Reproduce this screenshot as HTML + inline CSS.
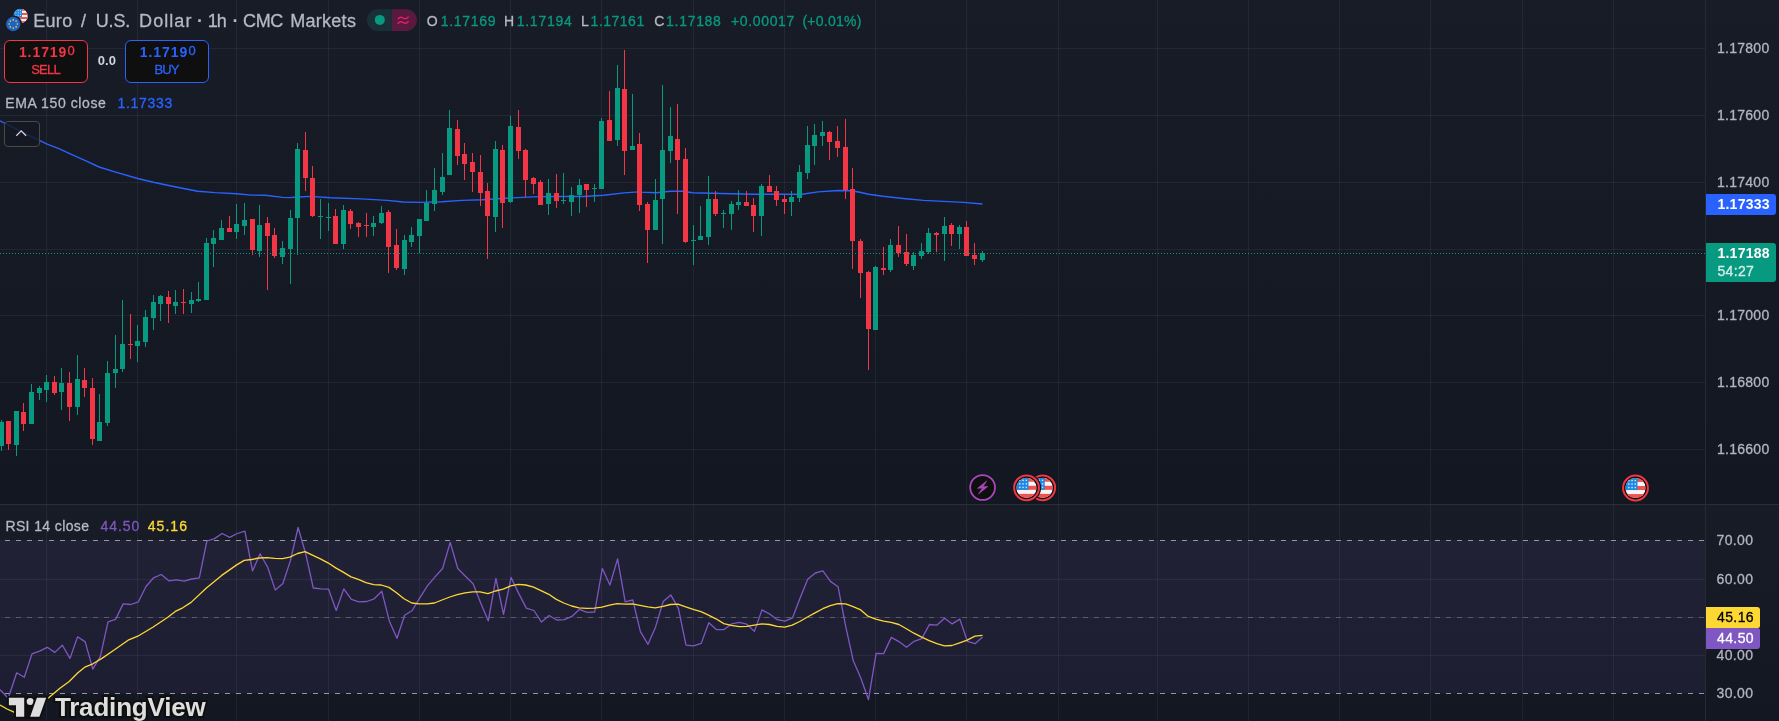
<!DOCTYPE html>
<html><head><meta charset="utf-8"><title>EURUSD chart</title>
<style>
html,body{margin:0;padding:0;background:#131722;}
body{width:1779px;height:721px;overflow:hidden;position:relative;font-family:"Liberation Sans",sans-serif;}
.chart{position:absolute;left:0;top:0;display:block;}
.tl{position:absolute;left:0;top:0;width:1779px;height:721px;will-change:transform;}
.t{position:absolute;white-space:nowrap;margin:0;padding:0;-webkit-text-stroke:0.3px currentColor;}
.bx{position:absolute;box-sizing:border-box;}
</style></head><body>
<svg class="chart" width="1779" height="721" viewBox="0 0 1779 721">
<defs><linearGradient id="bg1" x1="0" y1="0" x2="0" y2="1"><stop offset="0" stop-color="#181c27"/><stop offset="1" stop-color="#131722"/></linearGradient><clipPath id="cm"><rect x="0" y="0" width="1705" height="504"/></clipPath><clipPath id="cr"><rect x="0" y="505" width="1705" height="216"/></clipPath></defs>
<rect x="0" y="0" width="1779" height="504" fill="url(#bg1)"/>
<rect x="0" y="505" width="1779" height="216" fill="url(#bg1)"/>
<rect x="0" y="540" width="1705" height="153.5" fill="rgba(126,87,194,0.1)"/>
<g fill="rgba(240,243,250,0.06)" shape-rendering="crispEdges"><rect x="46" y="0" width="1" height="721"/><rect x="137" y="0" width="1" height="721"/><rect x="236" y="0" width="1" height="721"/><rect x="328" y="0" width="1" height="721"/><rect x="419" y="0" width="1" height="721"/><rect x="510" y="0" width="1" height="721"/><rect x="601" y="0" width="1" height="721"/><rect x="693" y="0" width="1" height="721"/><rect x="784" y="0" width="1" height="721"/><rect x="875" y="0" width="1" height="721"/><rect x="966" y="0" width="1" height="721"/><rect x="1058" y="0" width="1" height="721"/><rect x="1157" y="0" width="1" height="721"/><rect x="1248" y="0" width="1" height="721"/><rect x="1339" y="0" width="1" height="721"/><rect x="1430" y="0" width="1" height="721"/><rect x="1522" y="0" width="1" height="721"/><rect x="1613" y="0" width="1" height="721"/><rect x="0" y="48" width="1705" height="1"/><rect x="0" y="115" width="1705" height="1"/><rect x="0" y="182" width="1705" height="1"/><rect x="0" y="249" width="1705" height="1"/><rect x="0" y="315" width="1705" height="1"/><rect x="0" y="382" width="1705" height="1"/><rect x="0" y="449" width="1705" height="1"/><rect x="0" y="579" width="1705" height="1"/><rect x="0" y="617" width="1705" height="1"/><rect x="0" y="655" width="1705" height="1"/></g>
<g fill="#2a2e39" shape-rendering="crispEdges"><rect x="0" y="504" width="1779" height="1"/><rect x="1705" y="0" width="1" height="721" fill="#262a36"/></g>
<g stroke-dasharray="5.5 5.5" stroke-width="1" fill="none" shape-rendering="crispEdges"><path d="M-6.15 540.5H1705" stroke="#9598a1"/><path d="M-6.15 693.5H1705" stroke="#9598a1"/><path d="M-6.15 617.5H1705" stroke="rgba(120,123,134,0.6)"/></g>
<polyline clip-path="url(#cm)" fill="none" stroke="#2962ff" stroke-width="1.4" stroke-linejoin="round" points="0.0,120.8 10.0,125.8 20.0,130.8 30.0,135.8 46.6,143.9 60.0,149.2 70.8,154.2 84.3,160.2 99.1,167.0 114.0,171.7 137.6,178.5 154.5,182.5 174.7,186.8 197.7,191.3 215.2,192.6 236.8,193.7 251.6,195.1 265.1,195.3 282.7,197.4 289.4,197.6 294.8,197.2 310.2,196.4 330.5,197.7 360.9,198.9 387.2,200.4 403.4,202.0 421.6,202.4 441.8,201.8 462.1,200.4 482.3,199.8 512.7,197.9 532.9,196.9 553.2,196.5 583.5,196.5 603.8,195.3 624.0,192.9 638.2,191.9 640.0,192.1 656.2,192.7 670.4,191.3 682.5,191.3 692.6,192.7 721.0,193.5 753.4,194.3 802.0,194.3 818.1,191.9 838.4,190.5 850.5,190.8 858.6,192.0 868.7,194.3 882.9,196.3 903.2,198.5 923.4,200.4 943.6,201.4 963.9,202.4 982.4,204.0"/>
<g clip-path="url(#cm)" shape-rendering="crispEdges"><g fill="#089981"><rect x="1" y="420" width="1" height="31"/><rect x="-1" y="422" width="5" height="24"/><rect x="16" y="411" width="1" height="45"/><rect x="14" y="411" width="5" height="34"/><rect x="31" y="384" width="1" height="40"/><rect x="29" y="392" width="5" height="32"/><rect x="39" y="386" width="1" height="14"/><rect x="37" y="388" width="5" height="5"/><rect x="46" y="375" width="1" height="27"/><rect x="44" y="382" width="5" height="8"/><rect x="61" y="368" width="1" height="42"/><rect x="59" y="383" width="5" height="9"/><rect x="77" y="355" width="1" height="60"/><rect x="75" y="379" width="5" height="28"/><rect x="99" y="394" width="1" height="47"/><rect x="97" y="422" width="5" height="19"/><rect x="107" y="361" width="1" height="65"/><rect x="105" y="373" width="5" height="50"/><rect x="115" y="335" width="1" height="53"/><rect x="113" y="369" width="5" height="4"/><rect x="122" y="300" width="1" height="72"/><rect x="120" y="344" width="5" height="25"/><rect x="137" y="325" width="1" height="37"/><rect x="135" y="341" width="5" height="5"/><rect x="145" y="310" width="1" height="37"/><rect x="143" y="317" width="5" height="25"/><rect x="153" y="295" width="1" height="35"/><rect x="151" y="302" width="5" height="16"/><rect x="160" y="295" width="1" height="26"/><rect x="158" y="296" width="5" height="8"/><rect x="175" y="290" width="1" height="24"/><rect x="173" y="302" width="5" height="4"/><rect x="191" y="292" width="1" height="21"/><rect x="189" y="300" width="5" height="4"/><rect x="198" y="282" width="1" height="20"/><rect x="196" y="299" width="5" height="2"/><rect x="206" y="238" width="1" height="62"/><rect x="204" y="243" width="5" height="57"/><rect x="213" y="230" width="1" height="37"/><rect x="211" y="238" width="5" height="6"/><rect x="221" y="220" width="1" height="20"/><rect x="219" y="228" width="5" height="12"/><rect x="236" y="204" width="1" height="35"/><rect x="234" y="224" width="5" height="8"/><rect x="244" y="203" width="1" height="32"/><rect x="242" y="220" width="5" height="6"/><rect x="259" y="205" width="1" height="52"/><rect x="257" y="225" width="5" height="26"/><rect x="282" y="241" width="1" height="23"/><rect x="280" y="248" width="5" height="9"/><rect x="290" y="210" width="1" height="74"/><rect x="288" y="218" width="5" height="31"/><rect x="297" y="143" width="1" height="112"/><rect x="295" y="149" width="5" height="69"/><rect x="320" y="199" width="1" height="40"/><rect x="318" y="216" width="5" height="1"/><rect x="328" y="203" width="1" height="28"/><rect x="326" y="217" width="5" height="1"/><rect x="343" y="205" width="1" height="44"/><rect x="341" y="210" width="5" height="34"/><rect x="373" y="216" width="1" height="20"/><rect x="371" y="223" width="5" height="4"/><rect x="381" y="206" width="1" height="18"/><rect x="379" y="213" width="5" height="10"/><rect x="404" y="235" width="1" height="40"/><rect x="402" y="240" width="5" height="29"/><rect x="411" y="227" width="1" height="20"/><rect x="409" y="235" width="5" height="7"/><rect x="419" y="219" width="1" height="34"/><rect x="417" y="219" width="5" height="17"/><rect x="426" y="190" width="1" height="31"/><rect x="424" y="203" width="5" height="18"/><rect x="434" y="168" width="1" height="43"/><rect x="432" y="190" width="5" height="14"/><rect x="442" y="153" width="1" height="42"/><rect x="440" y="177" width="5" height="15"/><rect x="449" y="110" width="1" height="65"/><rect x="447" y="128" width="5" height="47"/><rect x="495" y="141" width="1" height="91"/><rect x="493" y="149" width="5" height="68"/><rect x="510" y="116" width="1" height="87"/><rect x="508" y="126" width="5" height="76"/><rect x="548" y="179" width="1" height="36"/><rect x="546" y="193" width="5" height="11"/><rect x="563" y="173" width="1" height="31"/><rect x="561" y="200" width="5" height="1"/><rect x="571" y="187" width="1" height="29"/><rect x="569" y="195" width="5" height="7"/><rect x="579" y="179" width="1" height="34"/><rect x="577" y="185" width="5" height="10"/><rect x="594" y="184" width="1" height="18"/><rect x="592" y="188" width="5" height="1"/><rect x="601" y="118" width="1" height="71"/><rect x="599" y="121" width="5" height="68"/><rect x="617" y="65" width="1" height="81"/><rect x="615" y="88" width="5" height="52"/><rect x="632" y="94" width="1" height="56"/><rect x="630" y="146" width="5" height="4"/><rect x="655" y="179" width="1" height="51"/><rect x="653" y="200" width="5" height="30"/><rect x="662" y="85" width="1" height="159"/><rect x="660" y="150" width="5" height="49"/><rect x="670" y="107" width="1" height="56"/><rect x="668" y="136" width="5" height="15"/><rect x="693" y="225" width="1" height="40"/><rect x="691" y="240" width="5" height="1"/><rect x="700" y="206" width="1" height="34"/><rect x="698" y="236" width="5" height="4"/><rect x="708" y="176" width="1" height="69"/><rect x="706" y="199" width="5" height="38"/><rect x="723" y="210" width="1" height="18"/><rect x="721" y="213" width="5" height="1"/><rect x="731" y="201" width="1" height="29"/><rect x="729" y="204" width="5" height="10"/><rect x="738" y="190" width="1" height="20"/><rect x="736" y="202" width="5" height="3"/><rect x="761" y="184" width="1" height="52"/><rect x="759" y="186" width="5" height="30"/><rect x="791" y="191" width="1" height="25"/><rect x="789" y="197" width="5" height="5"/><rect x="799" y="165" width="1" height="37"/><rect x="797" y="172" width="5" height="26"/><rect x="807" y="126" width="1" height="53"/><rect x="805" y="145" width="5" height="28"/><rect x="814" y="124" width="1" height="41"/><rect x="812" y="135" width="5" height="11"/><rect x="822" y="121" width="1" height="25"/><rect x="820" y="132" width="5" height="4"/><rect x="875" y="266" width="1" height="64"/><rect x="873" y="267" width="5" height="63"/><rect x="890" y="239" width="1" height="33"/><rect x="888" y="245" width="5" height="25"/><rect x="913" y="252" width="1" height="18"/><rect x="911" y="255" width="5" height="11"/><rect x="921" y="243" width="1" height="16"/><rect x="919" y="251" width="5" height="5"/><rect x="928" y="228" width="1" height="26"/><rect x="926" y="233" width="5" height="19"/><rect x="944" y="217" width="1" height="44"/><rect x="942" y="226" width="5" height="8"/><rect x="959" y="225" width="1" height="24"/><rect x="957" y="227" width="5" height="7"/><rect x="982" y="251" width="1" height="11"/><rect x="980" y="253" width="5" height="7"/></g><g fill="#f23645"><rect x="8" y="421" width="1" height="29"/><rect x="6" y="421" width="5" height="23"/><rect x="23" y="403" width="1" height="28"/><rect x="21" y="412" width="5" height="12"/><rect x="54" y="376" width="1" height="19"/><rect x="52" y="382" width="5" height="11"/><rect x="69" y="372" width="1" height="49"/><rect x="67" y="383" width="5" height="24"/><rect x="84" y="368" width="1" height="29"/><rect x="82" y="380" width="5" height="8"/><rect x="92" y="378" width="1" height="67"/><rect x="90" y="388" width="5" height="51"/><rect x="130" y="314" width="1" height="45"/><rect x="128" y="344" width="5" height="1"/><rect x="168" y="291" width="1" height="32"/><rect x="166" y="297" width="5" height="7"/><rect x="183" y="289" width="1" height="25"/><rect x="181" y="302" width="5" height="1"/><rect x="229" y="216" width="1" height="16"/><rect x="227" y="228" width="5" height="4"/><rect x="252" y="219" width="1" height="36"/><rect x="250" y="219" width="5" height="31"/><rect x="267" y="217" width="1" height="73"/><rect x="265" y="223" width="5" height="13"/><rect x="274" y="228" width="1" height="30"/><rect x="272" y="235" width="5" height="21"/><rect x="305" y="132" width="1" height="59"/><rect x="303" y="150" width="5" height="28"/><rect x="312" y="166" width="1" height="51"/><rect x="310" y="178" width="5" height="38"/><rect x="335" y="209" width="1" height="35"/><rect x="333" y="216" width="5" height="28"/><rect x="350" y="209" width="1" height="20"/><rect x="348" y="211" width="5" height="13"/><rect x="358" y="222" width="1" height="15"/><rect x="356" y="223" width="5" height="4"/><rect x="366" y="213" width="1" height="24"/><rect x="364" y="225" width="5" height="1"/><rect x="388" y="210" width="1" height="63"/><rect x="386" y="212" width="5" height="35"/><rect x="396" y="229" width="1" height="41"/><rect x="394" y="245" width="5" height="23"/><rect x="457" y="120" width="1" height="45"/><rect x="455" y="129" width="5" height="27"/><rect x="464" y="143" width="1" height="37"/><rect x="462" y="154" width="5" height="10"/><rect x="472" y="153" width="1" height="39"/><rect x="470" y="162" width="5" height="10"/><rect x="480" y="155" width="1" height="51"/><rect x="478" y="172" width="5" height="21"/><rect x="487" y="183" width="1" height="76"/><rect x="485" y="191" width="5" height="25"/><rect x="502" y="145" width="1" height="83"/><rect x="500" y="150" width="5" height="53"/><rect x="518" y="110" width="1" height="49"/><rect x="516" y="127" width="5" height="24"/><rect x="525" y="149" width="1" height="48"/><rect x="523" y="150" width="5" height="30"/><rect x="533" y="177" width="1" height="17"/><rect x="531" y="178" width="5" height="6"/><rect x="540" y="180" width="1" height="25"/><rect x="538" y="182" width="5" height="23"/><rect x="556" y="174" width="1" height="34"/><rect x="554" y="193" width="5" height="8"/><rect x="586" y="184" width="1" height="23"/><rect x="584" y="184" width="5" height="6"/><rect x="609" y="91" width="1" height="50"/><rect x="607" y="120" width="5" height="21"/><rect x="624" y="50" width="1" height="125"/><rect x="622" y="89" width="5" height="62"/><rect x="639" y="133" width="1" height="78"/><rect x="637" y="144" width="5" height="61"/><rect x="647" y="202" width="1" height="61"/><rect x="645" y="204" width="5" height="26"/><rect x="677" y="104" width="1" height="110"/><rect x="675" y="139" width="5" height="21"/><rect x="685" y="148" width="1" height="95"/><rect x="683" y="159" width="5" height="83"/><rect x="715" y="191" width="1" height="25"/><rect x="713" y="199" width="5" height="15"/><rect x="746" y="191" width="1" height="15"/><rect x="744" y="202" width="5" height="4"/><rect x="753" y="198" width="1" height="34"/><rect x="751" y="205" width="5" height="11"/><rect x="769" y="175" width="1" height="17"/><rect x="767" y="186" width="5" height="6"/><rect x="776" y="186" width="1" height="20"/><rect x="774" y="191" width="5" height="9"/><rect x="784" y="195" width="1" height="19"/><rect x="782" y="199" width="5" height="3"/><rect x="829" y="131" width="1" height="29"/><rect x="827" y="132" width="5" height="10"/><rect x="837" y="126" width="1" height="31"/><rect x="835" y="141" width="5" height="7"/><rect x="845" y="119" width="1" height="80"/><rect x="843" y="147" width="5" height="43"/><rect x="852" y="168" width="1" height="101"/><rect x="850" y="189" width="5" height="52"/><rect x="860" y="239" width="1" height="59"/><rect x="858" y="241" width="5" height="32"/><rect x="868" y="271" width="1" height="99"/><rect x="866" y="272" width="5" height="57"/><rect x="883" y="247" width="1" height="28"/><rect x="881" y="268" width="5" height="2"/><rect x="898" y="226" width="1" height="31"/><rect x="896" y="245" width="5" height="8"/><rect x="906" y="234" width="1" height="32"/><rect x="904" y="252" width="5" height="12"/><rect x="936" y="232" width="1" height="20"/><rect x="934" y="233" width="5" height="2"/><rect x="951" y="223" width="1" height="23"/><rect x="949" y="225" width="5" height="9"/><rect x="966" y="221" width="1" height="35"/><rect x="964" y="227" width="5" height="29"/><rect x="974" y="243" width="1" height="22"/><rect x="972" y="255" width="5" height="4"/></g></g>
<path d="M0 253.5H1705" stroke="#089981" stroke-width="1" stroke-dasharray="1 2" shape-rendering="crispEdges"/>
<polyline clip-path="url(#cr)" fill="none" stroke="#7e57c2" stroke-width="1.3" stroke-linejoin="round" points="-6.0,685.0 1.6,691.2 8.2,698.3 16.7,672.8 24.3,677.3 32.0,653.9 39.6,651.2 47.2,647.3 54.8,652.4 62.4,645.2 70.0,658.4 77.6,636.8 85.2,641.9 92.8,669.2 100.4,656.3 108.0,621.8 115.6,619.4 123.2,603.9 130.8,604.5 138.4,601.8 146.0,586.5 153.6,577.8 161.2,574.5 168.8,580.8 176.4,579.9 184.1,581.1 191.7,579.0 199.3,577.8 206.9,541.0 214.5,538.6 222.1,533.5 229.7,537.4 237.3,533.5 244.9,531.1 252.5,570.9 260.1,553.8 267.7,567.3 275.3,590.1 282.9,583.5 290.5,560.4 298.1,527.5 305.7,553.8 313.3,588.0 320.9,588.9 328.6,589.2 336.2,610.5 343.8,588.9 351.4,599.4 359.0,601.8 366.6,601.5 374.2,598.8 381.8,591.3 389.4,621.2 397.0,638.3 404.6,615.2 412.2,610.5 419.8,597.9 427.4,585.9 435.0,576.9 442.6,568.5 450.2,542.4 457.8,568.5 465.4,576.3 473.1,583.8 480.7,603.0 488.3,620.9 495.9,578.4 503.5,614.3 511.1,577.5 518.7,593.4 526.3,608.1 533.9,610.5 541.5,622.1 549.1,615.5 556.7,620.0 564.3,619.7 571.9,616.4 579.5,609.3 587.1,612.3 594.7,612.0 602.3,568.5 609.9,585.0 617.6,558.9 625.2,601.8 632.8,600.0 640.4,631.7 648.0,644.3 655.6,626.9 663.2,601.5 670.8,594.9 678.4,608.4 686.0,645.2 693.6,645.8 701.2,643.4 708.8,622.7 716.4,629.6 724.0,629.6 731.6,623.9 739.2,622.4 746.8,624.2 754.4,631.4 762.0,609.9 769.7,614.0 777.3,619.7 784.9,621.2 792.5,617.9 800.1,597.9 807.7,579.3 815.3,573.0 822.9,570.9 830.5,581.4 838.1,586.8 845.7,626.3 853.3,660.8 860.9,678.2 868.5,699.7 876.1,653.3 883.7,653.6 891.3,637.4 898.9,641.6 906.5,647.3 914.2,641.3 921.8,638.6 929.4,624.5 937.0,625.1 944.6,618.2 952.2,623.9 959.8,619.1 967.4,641.3 975.0,643.7 982.6,637.1"/>
<polyline clip-path="url(#cr)" fill="none" stroke="#fdd835" stroke-width="1.3" stroke-linejoin="round" points="0.0,705.0 7.0,709.0 14.0,712.2 19.0,713.3 23.0,711.5 27.0,705.5 31.0,702.0 36.0,701.0 41.0,701.3 45.0,699.8 48.7,697.7 59.9,688.3 68.9,681.8 77.9,672.8 85.4,666.8 92.9,663.8 101.9,658.4 113.8,650.3 128.8,639.8 137.8,636.2 152.8,627.2 167.8,617.3 175.3,611.4 182.7,607.8 191.1,602.4 206.1,588.3 221.7,575.4 236.7,564.9 244.2,560.4 251.7,559.5 259.0,558.0 267.1,557.7 274.6,558.3 282.4,558.6 289.8,557.1 297.6,553.5 305.1,551.7 312.9,555.3 320.4,558.9 327.9,562.8 335.7,567.9 343.2,572.1 351.0,576.9 358.4,579.3 365.9,582.6 373.7,584.7 381.2,585.0 389.0,587.4 396.5,592.8 404.0,598.8 411.8,603.0 419.3,603.9 427.1,603.9 434.5,603.0 442.0,600.0 449.8,597.0 457.3,594.6 465.1,592.8 472.6,591.9 480.1,591.9 487.9,593.7 495.4,591.0 503.1,589.2 510.8,585.9 518.3,584.4 525.8,585.0 533.6,587.1 541.0,590.7 548.8,594.3 556.3,599.4 563.8,603.0 571.6,606.0 579.1,607.8 586.9,608.4 594.4,608.1 601.9,607.2 609.6,605.1 617.1,603.6 624.9,604.2 632.4,603.9 639.9,605.4 647.7,606.9 655.2,607.8 663.0,606.3 670.5,604.5 678.0,604.2 685.7,606.9 693.2,609.3 701.0,611.7 708.5,615.2 716.0,618.8 723.8,623.6 731.3,625.4 739.1,626.6 746.6,626.3 754.2,625.1 761.7,623.9 769.5,624.5 777.0,626.3 784.8,627.2 792.2,625.1 799.7,621.5 807.5,617.0 815.0,612.9 822.8,608.7 830.3,605.7 837.8,603.6 845.6,603.9 853.1,606.6 860.8,609.9 868.3,616.4 875.8,619.1 883.6,621.2 891.1,622.4 898.9,624.5 906.4,628.7 913.9,633.2 921.7,637.1 929.2,640.7 936.9,643.7 944.4,645.8 951.9,645.5 959.7,642.8 967.2,640.1 975.0,636.2 982.5,635.3"/>
</svg>
<div class="bx" style="left:4px;top:40px;width:84px;height:43px;border:1px solid #f23645;border-radius:6px;background:#0f0f0f"></div>
<div class="bx" style="left:125px;top:40px;width:84px;height:43px;border:1px solid #2962ff;border-radius:6px;background:#0f0f0f"></div>
<div class="bx" style="left:4px;top:121px;width:36px;height:26px;border:1px solid #4a4947;border-radius:4px;background:rgba(21,24,34,0.82)"></div>
<div class="bx" style="left:1706px;top:194px;width:70px;height:21px;background:#2962ff;border-radius:0 3px 3px 0"></div>
<div class="bx" style="left:1706px;top:243px;width:70px;height:39px;background:#089981;border-radius:0 3px 3px 0"></div>
<div class="bx" style="left:1706px;top:607px;width:54px;height:21px;background:#fdd835;border-radius:0 3px 2px 0"></div>
<div class="bx" style="left:1706px;top:628px;width:54px;height:21px;background:#7e57c2;border-radius:0 2px 3px 0"></div>
<svg class="chart" width="1779" height="721" viewBox="0 0 1779 721">
<circle cx="982.6" cy="487.5" r="14.4" fill="#131722"/>
<circle cx="982.6" cy="487.5" r="12.4" fill="#0f0f0f" stroke="#ab47bc" stroke-width="1.8"/>
<path d="M986.7 480.9L977.5 488.3L982.4 488.1L978.6 493.9L987.8 486.5L983.0 486.7Z" fill="#ab47bc" stroke="#ab47bc" stroke-width="0.6" stroke-linejoin="round"/>
<g><circle cx="1042.7" cy="487.8" r="14.6" fill="#131722"/><circle cx="1042.7" cy="487.8" r="12.4" fill="#0f0f0f" stroke="#f23645" stroke-width="2"/><clipPath id="c10427"><circle cx="1042.7" cy="487.8" r="10.1"/></clipPath><g clip-path="url(#c10427)"><rect x="1032.6" y="477.7" width="20.2" height="20.2" fill="#f5f5f7"/><rect x="1032.6" y="477.70" width="20.2" height="4.04" fill="#ef5350"/><rect x="1032.6" y="485.78" width="20.2" height="4.04" fill="#ef5350"/><rect x="1032.6" y="493.86" width="20.2" height="4.04" fill="#ef5350"/><rect x="1032.6" y="477.7" width="12.1" height="12.12" fill="#1e88e5"/><path d="M1035.19 480.37h1.6M1035.99 479.57v1.6" stroke="#e3f2fd" stroke-width="0.7" fill="none"/><path d="M1035.19 483.88h1.6M1035.99 483.08v1.6" stroke="#e3f2fd" stroke-width="0.7" fill="none"/><path d="M1035.19 487.40h1.6M1035.99 486.60v1.6" stroke="#e3f2fd" stroke-width="0.7" fill="none"/><path d="M1038.47 480.37h1.6M1039.27 479.57v1.6" stroke="#e3f2fd" stroke-width="0.7" fill="none"/><path d="M1038.47 483.88h1.6M1039.27 483.08v1.6" stroke="#e3f2fd" stroke-width="0.7" fill="none"/><path d="M1038.47 487.40h1.6M1039.27 486.60v1.6" stroke="#e3f2fd" stroke-width="0.7" fill="none"/><path d="M1041.74 480.37h1.6M1042.54 479.57v1.6" stroke="#e3f2fd" stroke-width="0.7" fill="none"/><path d="M1041.74 483.88h1.6M1042.54 483.08v1.6" stroke="#e3f2fd" stroke-width="0.7" fill="none"/><path d="M1041.74 487.40h1.6M1042.54 486.60v1.6" stroke="#e3f2fd" stroke-width="0.7" fill="none"/></g></g>
<g><circle cx="1026.5" cy="487.8" r="14.6" fill="#131722"/><circle cx="1026.5" cy="487.8" r="12.4" fill="#0f0f0f" stroke="#f23645" stroke-width="2"/><clipPath id="c10265"><circle cx="1026.5" cy="487.8" r="10.1"/></clipPath><g clip-path="url(#c10265)"><rect x="1016.4" y="477.7" width="20.2" height="20.2" fill="#f5f5f7"/><rect x="1016.4" y="477.70" width="20.2" height="4.04" fill="#ef5350"/><rect x="1016.4" y="485.78" width="20.2" height="4.04" fill="#ef5350"/><rect x="1016.4" y="493.86" width="20.2" height="4.04" fill="#ef5350"/><rect x="1016.4" y="477.7" width="12.1" height="12.12" fill="#1e88e5"/><path d="M1018.99 480.37h1.6M1019.79 479.57v1.6" stroke="#e3f2fd" stroke-width="0.7" fill="none"/><path d="M1018.99 483.88h1.6M1019.79 483.08v1.6" stroke="#e3f2fd" stroke-width="0.7" fill="none"/><path d="M1018.99 487.40h1.6M1019.79 486.60v1.6" stroke="#e3f2fd" stroke-width="0.7" fill="none"/><path d="M1022.27 480.37h1.6M1023.07 479.57v1.6" stroke="#e3f2fd" stroke-width="0.7" fill="none"/><path d="M1022.27 483.88h1.6M1023.07 483.08v1.6" stroke="#e3f2fd" stroke-width="0.7" fill="none"/><path d="M1022.27 487.40h1.6M1023.07 486.60v1.6" stroke="#e3f2fd" stroke-width="0.7" fill="none"/><path d="M1025.54 480.37h1.6M1026.34 479.57v1.6" stroke="#e3f2fd" stroke-width="0.7" fill="none"/><path d="M1025.54 483.88h1.6M1026.34 483.08v1.6" stroke="#e3f2fd" stroke-width="0.7" fill="none"/><path d="M1025.54 487.40h1.6M1026.34 486.60v1.6" stroke="#e3f2fd" stroke-width="0.7" fill="none"/></g></g>
<g><circle cx="1635.5" cy="488.0" r="14.6" fill="#131722"/><circle cx="1635.5" cy="488.0" r="12.4" fill="#0f0f0f" stroke="#f23645" stroke-width="2"/><clipPath id="c16355"><circle cx="1635.5" cy="488.0" r="10.1"/></clipPath><g clip-path="url(#c16355)"><rect x="1625.4" y="477.9" width="20.2" height="20.2" fill="#f5f5f7"/><rect x="1625.4" y="477.90" width="20.2" height="4.04" fill="#ef5350"/><rect x="1625.4" y="485.98" width="20.2" height="4.04" fill="#ef5350"/><rect x="1625.4" y="494.06" width="20.2" height="4.04" fill="#ef5350"/><rect x="1625.4" y="477.9" width="12.1" height="12.12" fill="#1e88e5"/><path d="M1627.99 480.57h1.6M1628.79 479.77v1.6" stroke="#e3f2fd" stroke-width="0.7" fill="none"/><path d="M1627.99 484.08h1.6M1628.79 483.28v1.6" stroke="#e3f2fd" stroke-width="0.7" fill="none"/><path d="M1627.99 487.60h1.6M1628.79 486.80v1.6" stroke="#e3f2fd" stroke-width="0.7" fill="none"/><path d="M1631.27 480.57h1.6M1632.07 479.77v1.6" stroke="#e3f2fd" stroke-width="0.7" fill="none"/><path d="M1631.27 484.08h1.6M1632.07 483.28v1.6" stroke="#e3f2fd" stroke-width="0.7" fill="none"/><path d="M1631.27 487.60h1.6M1632.07 486.80v1.6" stroke="#e3f2fd" stroke-width="0.7" fill="none"/><path d="M1634.54 480.57h1.6M1635.34 479.77v1.6" stroke="#e3f2fd" stroke-width="0.7" fill="none"/><path d="M1634.54 484.08h1.6M1635.34 483.28v1.6" stroke="#e3f2fd" stroke-width="0.7" fill="none"/><path d="M1634.54 487.60h1.6M1635.34 486.80v1.6" stroke="#e3f2fd" stroke-width="0.7" fill="none"/></g></g>
<g><clipPath id="c206"><circle cx="20.6" cy="16.0" r="7.2"/></clipPath><g clip-path="url(#c206)"><rect x="13.4" y="8.8" width="14.4" height="14.4" fill="#f5f5f7"/><rect x="13.4" y="8.80" width="14.4" height="2.06" fill="#ef5350"/><rect x="13.4" y="12.91" width="14.4" height="2.06" fill="#ef5350"/><rect x="13.4" y="17.03" width="14.4" height="2.06" fill="#ef5350"/><rect x="13.4" y="21.14" width="14.4" height="2.06" fill="#ef5350"/><rect x="13.4" y="8.8" width="8.6" height="8.23" fill="#1e88e5"/><rect x="15.37" y="10.16" width="0.9" height="0.9" fill="#e3f2fd"/><rect x="15.37" y="12.55" width="0.9" height="0.9" fill="#e3f2fd"/><rect x="15.37" y="14.93" width="0.9" height="0.9" fill="#e3f2fd"/><rect x="17.70" y="10.16" width="0.9" height="0.9" fill="#e3f2fd"/><rect x="17.70" y="12.55" width="0.9" height="0.9" fill="#e3f2fd"/><rect x="17.70" y="14.93" width="0.9" height="0.9" fill="#e3f2fd"/><rect x="20.03" y="10.16" width="0.9" height="0.9" fill="#e3f2fd"/><rect x="20.03" y="12.55" width="0.9" height="0.9" fill="#e3f2fd"/><rect x="20.03" y="14.93" width="0.9" height="0.9" fill="#e3f2fd"/></g></g>
<circle cx="13.2" cy="24" r="8.7" fill="#171b26"/>
<circle cx="13.2" cy="24" r="7.2" fill="#1e63c4"/>
<circle cx="17.30" cy="24.00" r="0.8" fill="#fdd835"/>
<circle cx="16.10" cy="26.90" r="0.8" fill="#fdd835"/>
<circle cx="13.20" cy="28.10" r="0.8" fill="#fdd835"/>
<circle cx="10.30" cy="26.90" r="0.8" fill="#fdd835"/>
<circle cx="9.10" cy="24.00" r="0.8" fill="#fdd835"/>
<circle cx="10.30" cy="21.10" r="0.8" fill="#fdd835"/>
<circle cx="13.20" cy="19.90" r="0.8" fill="#fdd835"/>
<circle cx="16.10" cy="21.10" r="0.8" fill="#fdd835"/>
<g stroke="#0f0f0f" stroke-width="4" stroke-linejoin="round" fill="#dedede" paint-order="stroke"><path d="M24.2 699H36.5L30.2 716.7H24.2Z" fill="#0f0f0f"/><path d="M8.9 697.7H24.2V716.7H16V705.2H8.9Z"/><circle cx="30.2" cy="701.5" r="3.5"/><path d="M36.9 697.7H46.2L39.4 716.7H30.2Z"/></g>
<path d="M16.3 135.8L21.2 130.9L26.1 135.8" fill="none" stroke="#d1d4dc" stroke-width="1.3"/>
<path d="M377.8 9.3H391.9V30.9H377.8A10.8 10.8 0 0 1 377.8 9.3Z" fill="#1a3039"/>
<path d="M391.9 9.3H406.1A10.8 10.8 0 0 1 406.1 30.9H391.9Z" fill="#5a1a40"/>
<circle cx="379.8" cy="19.9" r="5" fill="#089981"/>
<g fill="none" stroke="#e91e63" stroke-width="1.5" stroke-linecap="round"><path d="M398.2 18.7c1.6-1.9 3.1-1.9 4.9-0.7s3.4 1.2 5-0.9"/><path d="M398.2 23.2c1.6-1.9 3.1-1.9 4.9-0.7s3.4 1.2 5-0.9"/></g>
</svg>
<div class="tl">
<div class="t" id="t0" style="left:33.20px;top:10.06px;font-size:18px;line-height:22px;color:#b6b9c2;font-weight:400;letter-spacing:0.323px;">Euro</div>
<div class="t" id="t1" style="left:80.90px;top:10.06px;font-size:18px;line-height:22px;color:#b6b9c2;font-weight:400;letter-spacing:5.084px;">/</div>
<div class="t" id="t2" style="left:95.80px;top:10.06px;font-size:18px;line-height:22px;color:#b6b9c2;font-weight:400;letter-spacing:-0.205px;">U.S.</div>
<div class="t" id="t3" style="left:139.10px;top:10.06px;font-size:18px;line-height:22px;color:#b6b9c2;font-weight:400;letter-spacing:1.057px;">Dollar</div>
<div class="t" id="t4" style="left:207.80px;top:10.06px;font-size:18px;line-height:22px;color:#b6b9c2;font-weight:400;letter-spacing:-1.031px;">1h</div>
<div class="t" id="t5" style="left:243.00px;top:10.06px;font-size:18px;line-height:22px;color:#b6b9c2;font-weight:400;letter-spacing:-0.350px;">CMC</div>
<div class="t" id="t6" style="left:290.20px;top:10.06px;font-size:18px;line-height:22px;color:#b6b9c2;font-weight:400;letter-spacing:0.281px;">Markets</div>
<div class="t" id="t7" style="left:196.90px;top:10.06px;font-size:18px;line-height:22px;color:#b6b9c2;font-weight:700;-webkit-text-stroke:0;">·</div>
<div class="t" id="t8" style="left:232.40px;top:10.06px;font-size:18px;line-height:22px;color:#b6b9c2;font-weight:700;-webkit-text-stroke:0;">·</div>
<div class="t" id="t9" style="left:426.80px;top:12.55px;font-size:14px;line-height:17px;color:#b6b9c2;font-weight:400;letter-spacing:-1.091px;">O</div>
<div class="t" id="t10" style="left:440.80px;top:12.55px;font-size:14px;line-height:17px;color:#089981;font-weight:400;letter-spacing:0.698px;">1.17169</div>
<div class="t" id="t11" style="left:504.00px;top:12.55px;font-size:14px;line-height:17px;color:#b6b9c2;font-weight:400;letter-spacing:-0.825px;">H</div>
<div class="t" id="t12" style="left:516.70px;top:12.55px;font-size:14px;line-height:17px;color:#089981;font-weight:400;letter-spacing:0.748px;">1.17194</div>
<div class="t" id="t13" style="left:581.00px;top:12.55px;font-size:14px;line-height:17px;color:#b6b9c2;font-weight:400;letter-spacing:-1.097px;">L</div>
<div class="t" id="t14" style="left:590.60px;top:12.55px;font-size:14px;line-height:17px;color:#089981;font-weight:400;letter-spacing:0.498px;">1.17161</div>
<div class="t" id="t15" style="left:654.30px;top:12.55px;font-size:14px;line-height:17px;color:#b6b9c2;font-weight:400;letter-spacing:-2.025px;">C</div>
<div class="t" id="t16" style="left:666.10px;top:12.55px;font-size:14px;line-height:17px;color:#089981;font-weight:400;letter-spacing:0.698px;">1.17188</div>
<div class="t" id="t17" style="left:731.00px;top:12.55px;font-size:14px;line-height:17px;color:#089981;font-weight:400;letter-spacing:0.643px;">+0.00017</div>
<div class="t" id="t18" style="left:802.40px;top:12.55px;font-size:14px;line-height:17px;color:#089981;font-weight:400;letter-spacing:0.257px;">(+0.01%)</div>
<div class="t" id="t19" style="left:5.30px;top:94.85px;font-size:14px;line-height:17px;color:#b6b9c2;font-weight:400;letter-spacing:0.592px;">EMA 150 close</div>
<div class="t" id="t20" style="left:117.50px;top:94.85px;font-size:14px;line-height:17px;color:#2962ff;font-weight:400;letter-spacing:0.698px;">1.17333</div>
<div class="t" id="t21" style="left:5.40px;top:518.05px;font-size:14px;line-height:17px;color:#b6b9c2;font-weight:400;letter-spacing:0.384px;">RSI 14 close</div>
<div class="t" id="t22" style="left:100.40px;top:518.05px;font-size:14px;line-height:17px;color:#7e57c2;font-weight:400;letter-spacing:0.963px;">44.50</div>
<div class="t" id="t23" style="left:147.70px;top:518.05px;font-size:14px;line-height:17px;color:#fdd835;font-weight:400;letter-spacing:1.063px;">45.16</div>
<div class="t" id="t24" style="left:18.90px;top:44.45px;font-size:14px;line-height:17px;color:#f23645;font-weight:700;letter-spacing:0.934px;-webkit-text-stroke:0;">1.1719</div>
<div class="t" id="t25" style="left:67.50px;top:43.30px;font-size:13px;line-height:16px;color:#f23645;font-weight:400;">0</div>
<div class="t" id="t26" style="left:31.20px;top:62.20px;font-size:13px;line-height:16px;color:#f23645;font-weight:400;letter-spacing:-0.771px;">SELL</div>
<div class="t" id="t27" style="left:97.80px;top:52.50px;font-size:13px;line-height:16px;color:#d1d4dc;font-weight:700;letter-spacing:0.061px;-webkit-text-stroke:0;">0.0</div>
<div class="t" id="t28" style="left:139.80px;top:44.45px;font-size:14px;line-height:17px;color:#2962ff;font-weight:700;letter-spacing:0.934px;-webkit-text-stroke:0;">1.1719</div>
<div class="t" id="t29" style="left:188.40px;top:43.30px;font-size:13px;line-height:16px;color:#2962ff;font-weight:400;">0</div>
<div class="t" id="t30" style="left:154.60px;top:62.20px;font-size:13px;line-height:16px;color:#2962ff;font-weight:400;letter-spacing:-0.967px;">BUY</div>
<div class="t" id="t31" style="left:1717.00px;top:39.65px;font-size:14px;line-height:17px;color:#b2b5be;font-weight:400;letter-spacing:0.265px;">1.17800</div>
<div class="t" id="t32" style="left:1717.00px;top:106.65px;font-size:14px;line-height:17px;color:#b2b5be;font-weight:400;letter-spacing:0.265px;">1.17600</div>
<div class="t" id="t33" style="left:1717.00px;top:173.65px;font-size:14px;line-height:17px;color:#b2b5be;font-weight:400;letter-spacing:0.265px;">1.17400</div>
<div class="t" id="t34" style="left:1717.00px;top:306.65px;font-size:14px;line-height:17px;color:#b2b5be;font-weight:400;letter-spacing:0.265px;">1.17000</div>
<div class="t" id="t35" style="left:1717.00px;top:373.65px;font-size:14px;line-height:17px;color:#b2b5be;font-weight:400;letter-spacing:0.265px;">1.16800</div>
<div class="t" id="t36" style="left:1717.00px;top:440.65px;font-size:14px;line-height:17px;color:#b2b5be;font-weight:400;letter-spacing:0.265px;">1.16600</div>
<div class="t" id="t37" style="left:1716.50px;top:532.35px;font-size:14px;line-height:17px;color:#b2b5be;font-weight:400;letter-spacing:0.363px;">70.00</div>
<div class="t" id="t38" style="left:1716.50px;top:570.85px;font-size:14px;line-height:17px;color:#b2b5be;font-weight:400;letter-spacing:0.363px;">60.00</div>
<div class="t" id="t39" style="left:1716.50px;top:647.35px;font-size:14px;line-height:17px;color:#b2b5be;font-weight:400;letter-spacing:0.363px;">40.00</div>
<div class="t" id="t40" style="left:1716.50px;top:685.15px;font-size:14px;line-height:17px;color:#b2b5be;font-weight:400;letter-spacing:0.363px;">30.00</div>
<div class="t" id="t41" style="left:1717.40px;top:196.35px;font-size:14px;line-height:17px;color:#ffffff;font-weight:700;letter-spacing:0.265px;-webkit-text-stroke:0;">1.17333</div>
<div class="t" id="t42" style="left:1717.40px;top:244.85px;font-size:14px;line-height:17px;color:#ffffff;font-weight:700;letter-spacing:0.265px;-webkit-text-stroke:0;">1.17188</div>
<div class="t" id="t43" style="left:1717.40px;top:262.85px;font-size:14px;line-height:17px;color:rgba(255,255,255,0.78);font-weight:400;letter-spacing:0.363px;">54:27</div>
<div class="t" id="t44" style="left:1717.00px;top:609.25px;font-size:14px;line-height:17px;color:#000000;font-weight:400;letter-spacing:0.388px;">45.16</div>
<div class="t" id="t45" style="left:1717.00px;top:630.15px;font-size:14px;line-height:17px;color:#ffffff;font-weight:400;letter-spacing:0.388px;">44.50</div>
<div class="t" id="t46" style="left:54.90px;top:692.19px;font-size:26px;line-height:31px;color:#dedede;font-weight:700;letter-spacing:-0.179px;-webkit-text-stroke:0;-webkit-text-stroke:4px #0f0f0f;paint-order:stroke fill;">TradingView</div>
</div>
</body></html>
